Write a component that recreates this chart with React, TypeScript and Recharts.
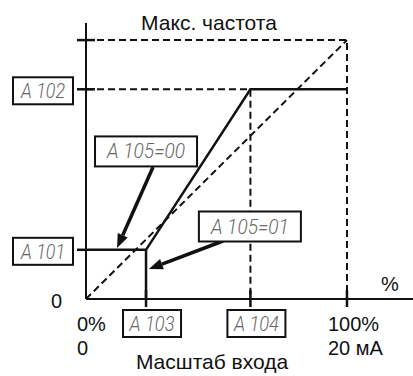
import React from 'react';
import { ComposedChart, Line, XAxis, YAxis, ReferenceLine, ReferenceDot } from 'recharts';

// Parameter levels (percent of max)
const A101 = 19;
const A102 = 81;
const A103 = 23;
const A104 = 63;
const MAX = 100;

const yTicks = [0, A101, A102, MAX];
const yTickLabels = ['', 'A 101', 'A 102', ''];
const xTicks = [0, A103, A104, MAX];
const xTickLabels = ['', 'A 103', 'A 104', ''];

const originLabels = ['0', '0%', '0'];
const endLabels = ['100%', '20 мА'];

const curveA105_00 = [
  { x: 0, y: A101 },
  { x: A103, y: A101 },
  { x: A104, y: A102 },
  { x: MAX, y: A102 },
];
const curveA105_01 = [
  { x: A103, y: 0 },
  { x: A103, y: A101 },
];
const diagonal = [
  { x: 0, y: 0 },
  { x: MAX, y: MAX },
];
const maxFrame = [
  { x: 0, y: MAX },
  { x: MAX, y: MAX },
  { x: MAX, y: 0 },
];
const a102Guide = [
  { x: 0, y: A102 },
  { x: A104, y: A102 },
  { x: A104, y: 0 },
];

const boxes = [
  { x: 23, y: 57, text: 'A 105=00' },
  { x: 62.8, y: 28, text: 'A 105=01' },
];
const arrows = [
  { from: { x: 25.7, y: 51 }, to: { x: 11.9, y: 19.7 } },
  { from: { x: 52.5, y: 22.4 }, to: { x: 24.1, y: 11.6 } },
];

const FONT = '"Liberation Sans", Arial, sans-serif';
const SEG_FONT = 'Roboto, "Open Sans", sans-serif';
const SEG_COLOR = '#666';

const SegText = ({ x, y, text, len }: any) => (
  <text
    x={x}
    y={y}
    textAnchor="middle"
    fontFamily={SEG_FONT}
    fontStyle="italic"
    fontWeight={300}
    fontSize={20}
    fill={SEG_COLOR}
    stroke="none"
    textLength={len}
    lengthAdjust="spacingAndGlyphs"
  >
    {text}
  </text>
);

const T = ({ children, ...rest }: any) => (
  <text fontFamily={FONT} fontSize={20} fontWeight={400} fill="#111" stroke="none" {...rest}>
    {children}
  </text>
);

const YTick = (props: any) => {
  const { x, y, payload } = props;
  const v = payload.value;
  if (v === 0) return <g />;
  const label = yTickLabels[yTicks.indexOf(v)];
  return (
    <g>
      <line x1={x - 9} x2={v === A101 ? x : x + 9} y1={y} y2={y} stroke="#111" strokeWidth={2.5} />
      {label ? (
        <g>
          <rect x={x - 73} y={y - 12} width={60} height={27} fill="#fff" stroke="#111" strokeWidth={2} />
          <SegText x={x - 43} y={y + 9} text={label} len={44} />
        </g>
      ) : null}
    </g>
  );
};

const XTick = (props: any) => {
  const { x, y, payload } = props;
  const v = payload.value;
  if (v === 0) return <g />;
  const label = xTickLabels[xTicks.indexOf(v)];
  return (
    <g>
      <line x1={x} x2={x} y1={y - 9} y2={y + 8} stroke="#111" strokeWidth={2.5} />
      {label ? (
        <g>
          <rect x={x - 23} y={y + 11} width={58} height={27} fill="#fff" stroke="#111" strokeWidth={2} />
          <SegText x={x + 6} y={y + 32} text={label} len={45} />
        </g>
      ) : null}
    </g>
  );
};

const OriginShape = (props: any) => {
  const { cx, cy } = props;
  return (
    <g>
      <T x={cx - 24} y={cy + 9} textAnchor="end">{originLabels[0]}</T>
      <T x={cx - 9} y={cy + 32}>{originLabels[1]}</T>
      <T x={cx - 9} y={cy + 56}>{originLabels[2]}</T>
    </g>
  );
};

const EndShape = (props: any) => {
  const { cx, cy } = props;
  return (
    <g>
      <T x={cx - 19} y={cy + 32}>{endLabels[0]}</T>
      <T x={cx - 19} y={cy + 56}>{endLabels[1]}</T>
    </g>
  );
};

const ArrowShape = (props: any) => {
  const { x1, y1, x2, y2 } = props;
  const dx = x2 - x1;
  const dy = y2 - y1;
  const L = Math.sqrt(dx * dx + dy * dy) || 1;
  const ux = dx / L;
  const uy = dy / L;
  const head = 14;
  const hw = 5.5;
  const bx = x2 - ux * head;
  const by = y2 - uy * head;
  const px = -uy;
  const py = ux;
  return (
    <g>
      <line x1={x1} y1={y1} x2={bx} y2={by} stroke="#111" strokeWidth={3.5} />
      <polygon
        points={`${x2},${y2} ${bx + px * hw},${by + py * hw} ${bx - px * hw},${by - py * hw}`}
        fill="#111"
        stroke="none"
      />
    </g>
  );
};

const BoxShape = (text: string) => (props: any) => {
  const { cx, cy } = props;
  return (
    <g>
      <rect x={cx - 51} y={cy - 15} width={102} height={30} fill="#fff" stroke="#111" strokeWidth={2} />
      <SegText x={cx} y={cy + 7} text={text} len={78} />
    </g>
  );
};

const XLabel = (props: any) => {
  const vb = props.viewBox || { x: 86, y: 299 };
  return (
    <g>
      <T x={vb.x + 126} y={vb.y + 70} textAnchor="middle" fontSize={21}>Масштаб входа</T>
      <T x={vb.x + 304} y={vb.y - 8} textAnchor="middle">%</T>
    </g>
  );
};

const YLabel = (props: any) => {
  const vb = props.viewBox || { x: 0, y: 23 };
  return (
    <T x={209} y={vb.y + 7} textAnchor="middle" fontSize={21}>
      Макс. частота
    </T>
  );
};

const dashed = { stroke: '#111', strokeWidth: 2, strokeDasharray: '7 4' };

export default function App() {
  return (
    <div style={{ position: 'absolute', left: 0, top: 0, width: 413, height: 376, background: '#fff' }}>
      <ComposedChart width={413} height={376} margin={{ top: 23, right: 0, bottom: 0, left: 0 }}>
        <XAxis
          type="number"
          dataKey="x"
          domain={[0, 125.3]}
          ticks={xTicks}
          interval={0}
          allowDataOverflow
          height={77}
          tickSize={0}
          tickMargin={0}
          tickLine={false}
          axisLine={{ stroke: '#111', strokeWidth: 2 }}
          tick={<XTick />}
          label={<XLabel />}
        />
        <YAxis
          type="number"
          domain={[0, 106.6]}
          ticks={yTicks}
          interval={0}
          allowDataOverflow
          width={86}
          tickSize={0}
          tickMargin={0}
          tickLine={false}
          axisLine={{ stroke: '#111', strokeWidth: 2 }}
          tick={<YTick />}
          label={<YLabel />}
        />
        <Line data={maxFrame} dataKey="y" type="linear" dot={false} activeDot={false} isAnimationActive={false} {...dashed} />
        <Line data={a102Guide} dataKey="y" type="linear" dot={false} activeDot={false} isAnimationActive={false} {...dashed} />
        <Line data={diagonal} dataKey="y" type="linear" dot={false} activeDot={false} isAnimationActive={false} {...dashed} />
        <Line data={curveA105_01} dataKey="y" type="linear" dot={false} activeDot={false} isAnimationActive={false} stroke="#111" strokeWidth={2.5} />
        <Line data={curveA105_00} dataKey="y" type="linear" dot={false} activeDot={false} isAnimationActive={false} stroke="#111" strokeWidth={2.5} />
        {arrows.map((a, i) => (
          <ReferenceLine key={'a' + i} segment={[a.from, a.to]} shape={ArrowShape} ifOverflow="visible" />
        ))}
        {boxes.map((b, i) => (
          <ReferenceDot key={'b' + i} x={b.x} y={b.y} r={0} shape={BoxShape(b.text)} ifOverflow="visible" />
        ))}
        <ReferenceDot x={0} y={0} r={0} shape={OriginShape} ifOverflow="visible" />
        <ReferenceDot x={MAX} y={0} r={0} shape={EndShape} ifOverflow="visible" />
      </ComposedChart>
    </div>
  );
}
